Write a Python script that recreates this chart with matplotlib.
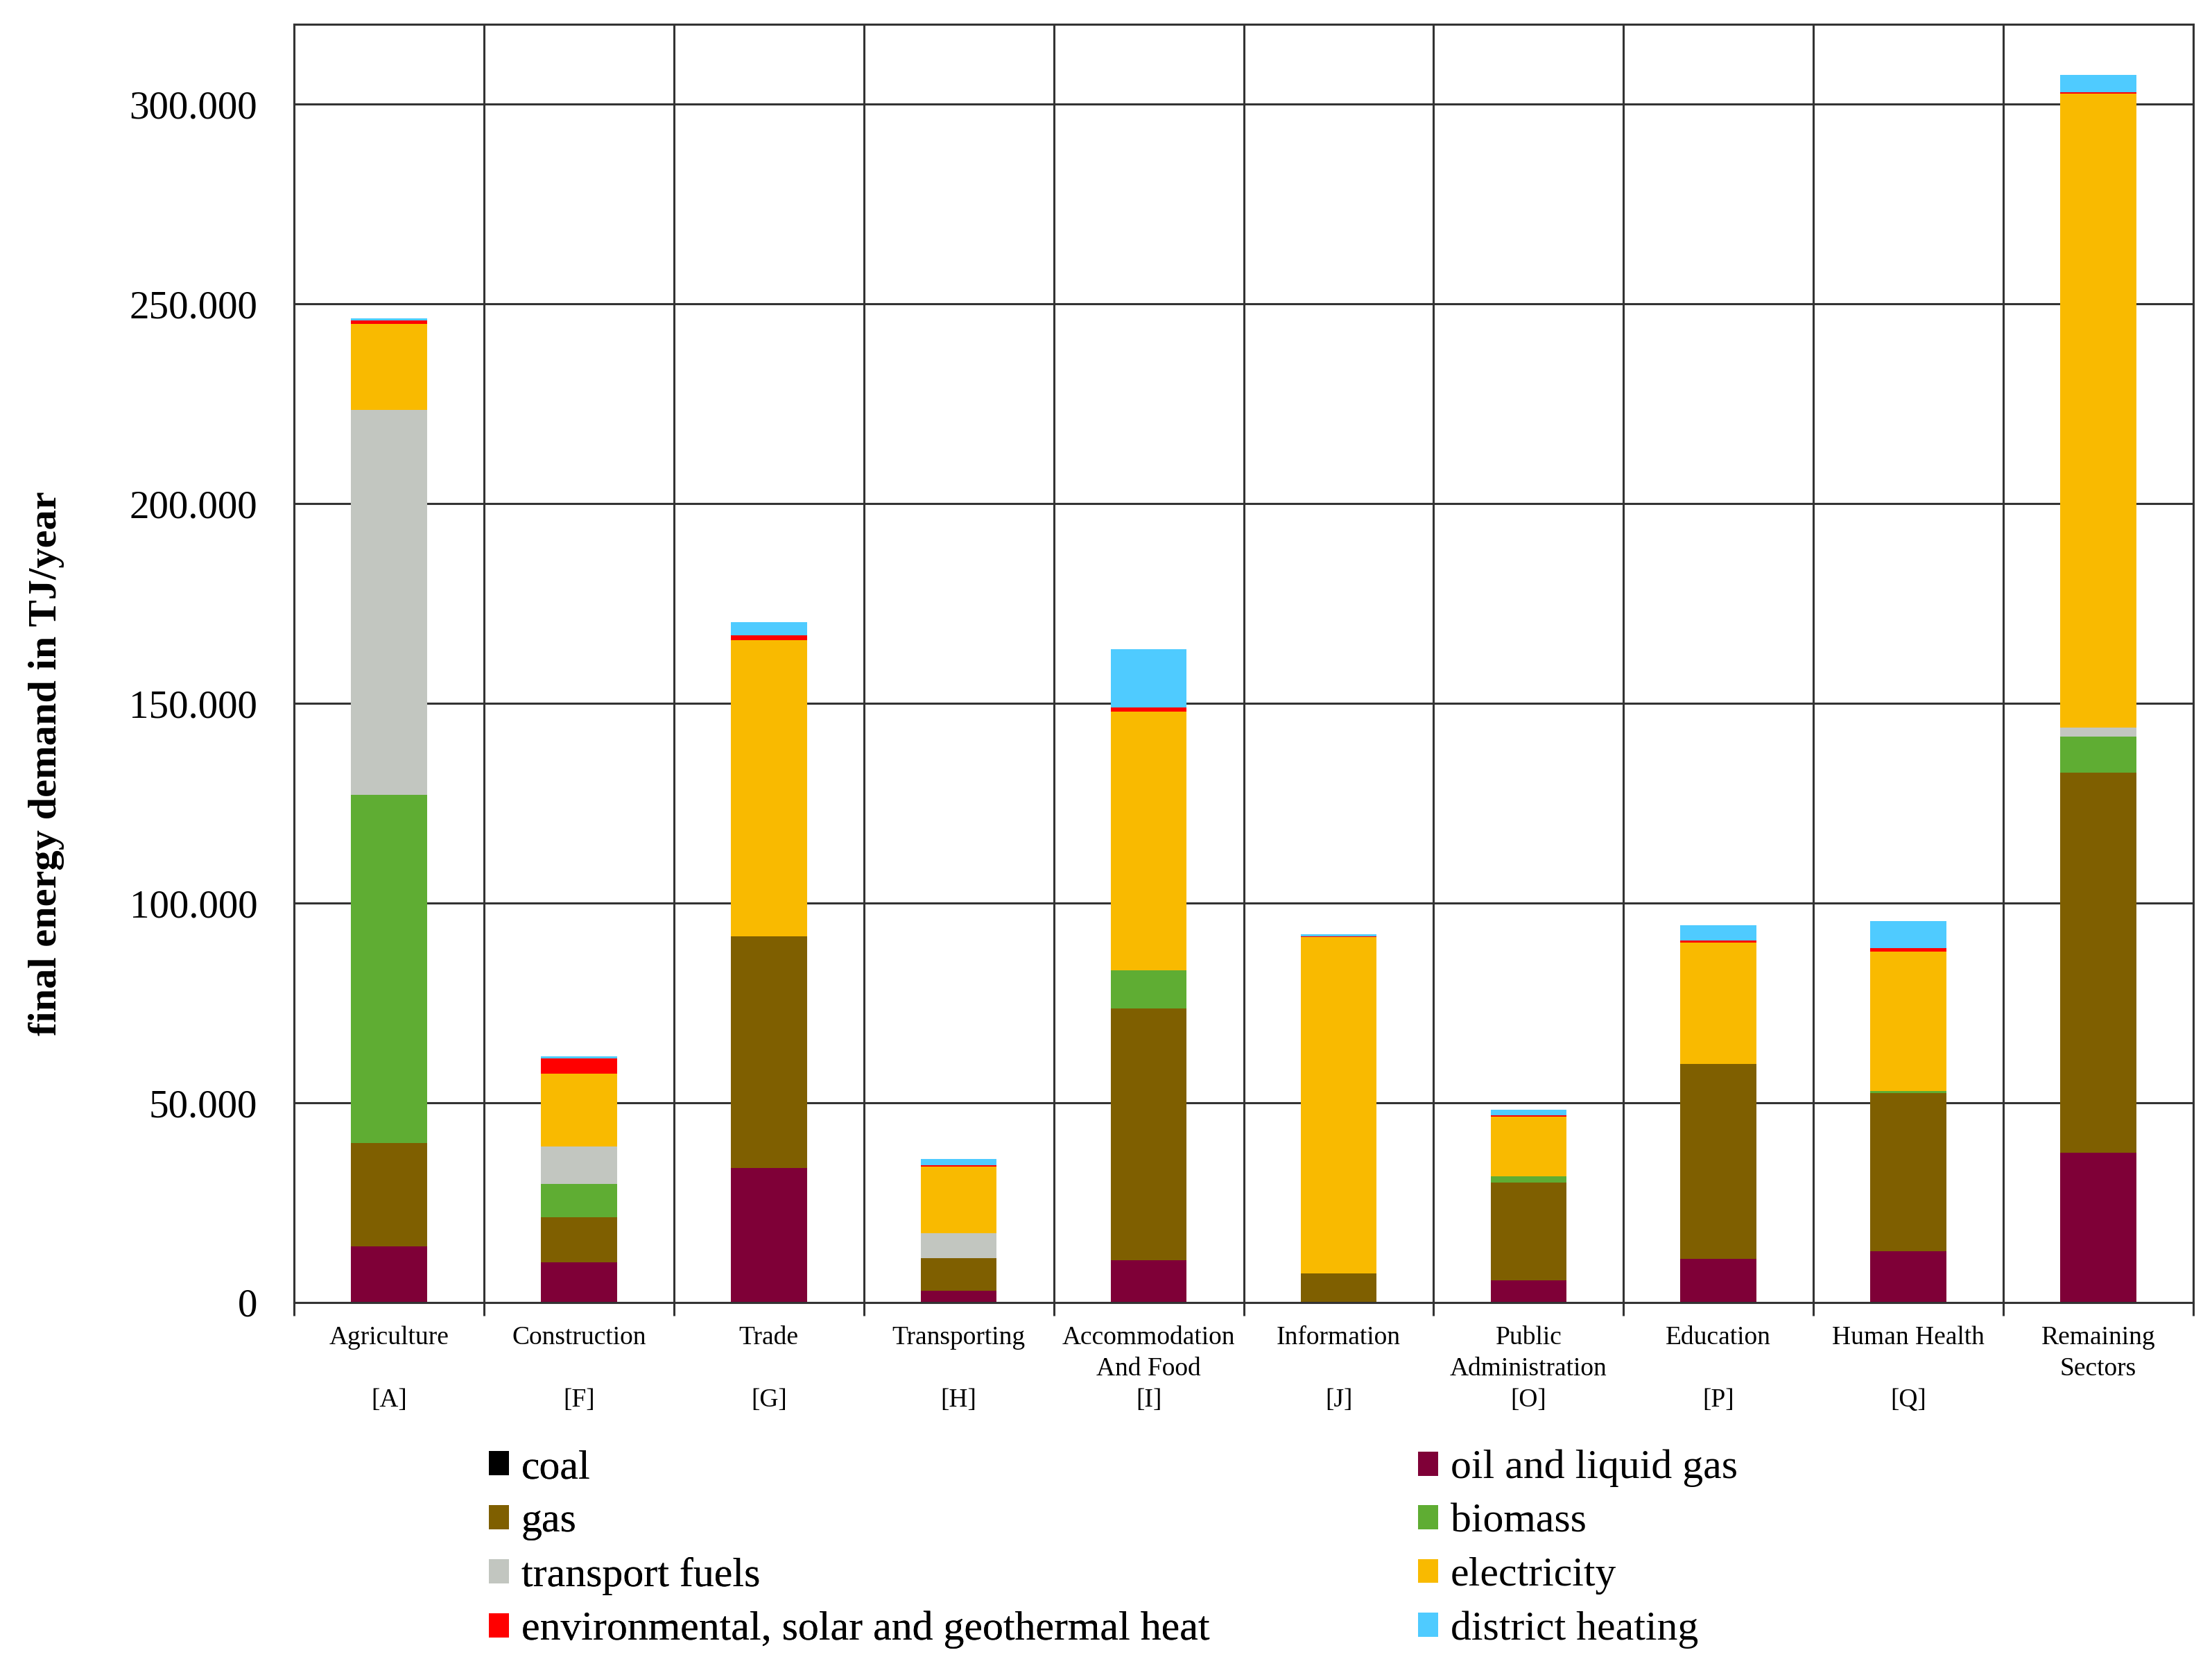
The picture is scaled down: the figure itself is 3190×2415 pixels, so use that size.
import numpy as np
import matplotlib
matplotlib.use('Agg')
import matplotlib.pyplot as plt
from matplotlib.ticker import FuncFormatter, FixedLocator
from matplotlib.patches import Patch

plt.rcParams['font.family'] = ['Liberation Serif', 'DejaVu Serif']

# sectors (name line, second line, NACE code)
sectors = ['Agriculture\n\n[A]', 'Construction\n\n[F]', 'Trade\n\n[G]', 'Transporting\n\n[H]',
           'Accommodation\nAnd Food\n[I]', 'Information\n\n[J]', 'Public\nAdministration\n[O]',
           'Education\n\n[P]', 'Human Health\n\n[Q]', 'Remaining\nSectors\n']

# final energy demand in TJ/year
coal        = [0, 0, 0, 0, 0, 0, 0, 0, 0, 0]
oil         = [14100, 10100, 33600, 3000, 10600, 0, 5600, 10900, 12900, 37500]
gas         = [25900, 11200, 58100, 8100, 63100, 7300, 24400, 48800, 39500, 95200]
biomass     = [87100, 8400, 0, 0, 9400, 0, 1600, 0, 600, 9000]
transport   = [96300, 9300, 0, 6200, 0, 0, 0, 0, 0, 2200]
electricity = [21600, 18300, 74100, 16800, 64900, 84200, 15000, 30400, 34900, 158700]
environment = [800, 3800, 1200, 200, 1000, 100, 200, 600, 800, 300]
district    = [500, 500, 3300, 1700, 14500, 600, 1500, 3800, 6800, 4500]

series_names = ['coal', 'oil and liquid gas', 'gas', 'biomass', 'transport fuels',
                'electricity', 'environmental, solar and geothermal heat', 'district heating']
series_values = [coal, oil, gas, biomass, transport, electricity, environment, district]
colors = ['#000000', '#7F0037', '#7F5F00', '#5FAD33', '#C2C6C0',
          '#F9BA00', '#FF0000', '#4FCBFF']

fig = plt.figure(figsize=(31.9, 24.15), dpi=100)
ax = fig.add_axes([424 / 3190, 1 - 1878 / 2415, (3163 - 424) / 3190, (1878 - 35) / 2415])

x = np.arange(len(sectors))
bottom = np.zeros(len(sectors))
for name, vals, c in zip(series_names, series_values, colors):
    vals = np.array(vals, dtype=float)
    ax.bar(x, vals, width=0.4, bottom=bottom, color=c, label=name, linewidth=0, zorder=2)
    bottom += vals

ax.set_xlim(-0.5, len(sectors) - 0.5)
ax.set_ylim(0, 320000)
ax.set_yticks(np.arange(0, 300001, 50000))
ax.yaxis.set_major_formatter(FuncFormatter(lambda v, p: f'{int(v):,}'.replace(',', '.')))
ax.tick_params(axis='y', length=0, pad=38, labelsize=41)

ax.set_xticks(x)
ax.set_xticklabels(sectors, fontsize=27, linespacing=1.4, va='top')
ax.xaxis.set_minor_locator(FixedLocator(np.arange(-0.5, len(sectors), 1.0)))
ax.tick_params(axis='x', which='major', length=0, pad=24)
ax.tick_params(axis='x', which='minor', length=14, width=2.2, direction='out', color='#333333')

ax.set_axisbelow(True)
ax.grid(axis='y', which='major', color='#333333', linewidth=2.2)
ax.grid(axis='x', which='minor', color='#333333', linewidth=2.2)
for s in ax.spines.values():
    s.set_color('#333333')
    s.set_linewidth(2.2)

fig.text(67 / 3190, 1 - 1101 / 2415, 'final energy demand in TJ/year', rotation=90,
         ha='center', va='center', fontsize=42, fontweight='bold',
         family='Liberation Serif')

# legend in two columns, row-wise order as in the original
handles = [Patch(facecolor=c, edgecolor='none') for c in colors]
left_idx = [0, 2, 4, 6]
right_idx = [1, 3, 5, 7]
leg_kw = dict(frameon=False, prop={'family': 'Liberation Serif', 'size': 43},
              handlelength=0.48, handleheight=0.52,
              handletextpad=0.3, labelspacing=0.39, borderpad=0, borderaxespad=0,
              loc='upper left')
leg1 = fig.legend([handles[i] for i in left_idx], [series_names[i] for i in left_idx],
                  bbox_to_anchor=(705 / 3190, 1 - 2090 / 2415), **leg_kw)
fig.add_artist(leg1)
fig.legend([handles[i] for i in right_idx], [series_names[i] for i in right_idx],
           bbox_to_anchor=(2045 / 3190, 1 - 2090 / 2415), **leg_kw)

fig.savefig('out.png', dpi=100, facecolor='white')
